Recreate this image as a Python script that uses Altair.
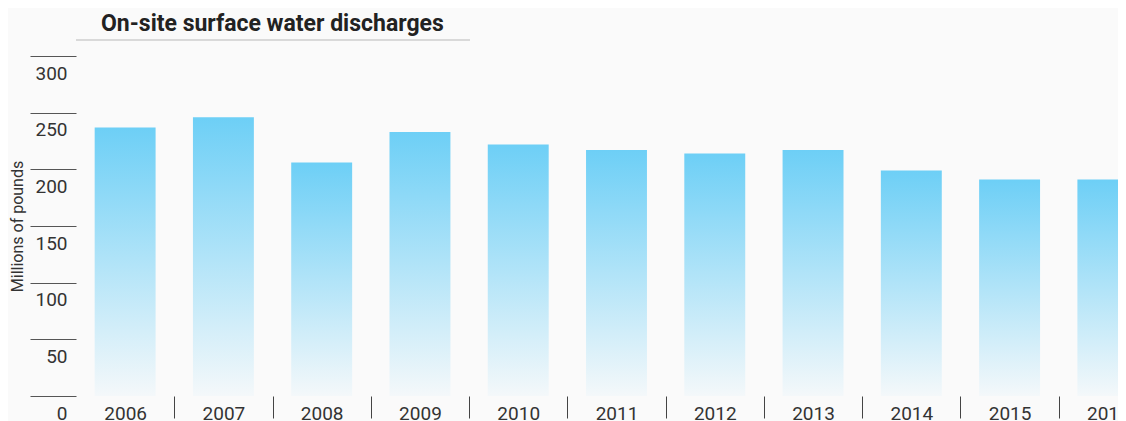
import altair as alt
import pandas as pd

years = ["2006", "2007", "2008", "2009", "2010", "2011", "2012", "2013", "2014", "2015", "2016"]
discharges = [237, 246, 206, 233, 222, 217, 214, 217, 199, 191, 191]
y_ticks = [0, 50, 100, 150, 200, 250, 300]

df = pd.DataFrame({"year": years, "value": discharges})

gradient = alt.Gradient(
    gradient="linear",
    stops=[
        alt.GradientStop(color="#6dcff6", offset=0),
        alt.GradientStop(color="#f4f8fa", offset=1),
    ],
    x1=0, x2=0, y1=0, y2=1,
)

bars = alt.Chart(df).mark_bar(color=gradient, width=alt.RelativeBandSize(0.62)).encode(
    x=alt.X(
        "year:N",
        sort=years,
        scale=alt.Scale(range=[0, 1081], paddingInner=0, paddingOuter=0),
        axis=alt.Axis(
            title=None,
            domain=False,
            tickBand="extent",
            tickSize=22,
            tickColor="#444444",
            tickOpacity={"condition": {"test": "datum.index < 0", "value": 0}, "value": 1},
            labelPadding=-14,
            labelBaseline="top",
            labelFont="Roboto",
            labelFontSize=19,
            labelColor="#333333",
            labelAngle=0,
        ),
    ),
    y=alt.Y(
        "value:Q",
        scale=alt.Scale(domain=[0, 300]),
        axis=alt.Axis(
            values=y_ticks,
            title="Millions of pounds",
            titleFont="Roboto",
            titleFontSize=16,
            titleFontWeight="normal",
            titleColor="#333333",
            titlePadding=4,
            domain=False,
            grid=False,
            tickSize=46,
            tickColor="#555555",
            labelPadding=-37,
            labelAlign="right",
            labelBaseline="top",
            labelOffset=8,
            labelFont="Roboto",
            labelFontSize=19,
            labelColor="#333333",
        ),
    ),
)

underline = alt.Chart(df).mark_rule(color="#d8d8d8", strokeWidth=1.5).encode(
    x=alt.value(0), x2=alt.value(394), y=alt.value(-16)
)

chart = (
    alt.layer(bars, underline)
    .properties(
        width=1042,
        height=340,
        background="#fafafa",
        autosize=alt.AutoSizeParams(type="none"),
        padding={"left": 68, "top": 48, "right": 0, "bottom": 25},
        title=alt.TitleParams(
            "On-site surface water discharges",
            anchor="start",
            frame="group",
            font="Roboto",
            fontSize=23,
            fontWeight="bold",
            color="#222222",
            offset=3,
            dx=25,
        ),
    )
    .configure_view(stroke=None)
)

chart.save("out.html", embed_options={"renderer": "svg", "actions": False})
